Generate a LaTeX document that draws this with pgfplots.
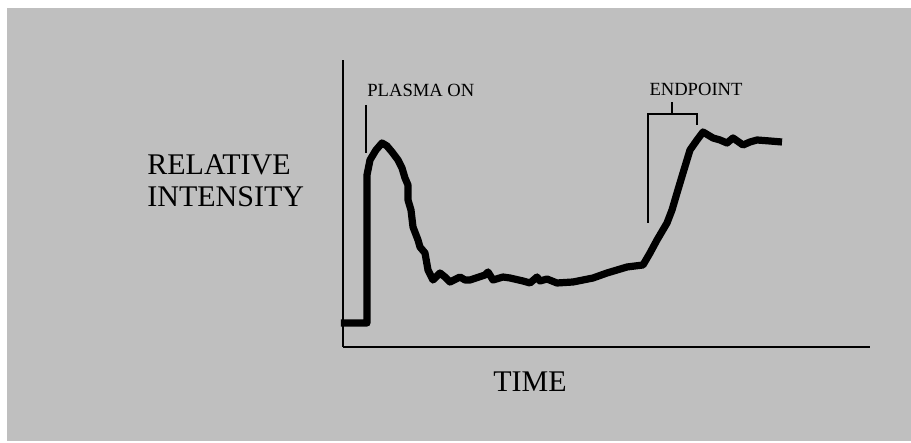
\documentclass[border=0pt]{standalone}
\usepackage{fontspec}
\setmainfont{Liberation Serif}
\usepackage{pgfplots}
\pgfplotsset{compat=1.18}
\definecolor{panel}{HTML}{BFBFBF}
\begin{document}
\begin{tikzpicture}
\fill[white] (-171.5pt,-48pt) rectangle (284pt,173.5pt);
\fill[panel] (-168pt,-47pt) rectangle (284pt,169.5pt);
\begin{axis}[
  scale only axis,
  width=263.5pt, height=143.5pt,
  xmin=0, xmax=527, ymin=0, ymax=287,
  axis x line=bottom, axis y line=left,
  axis line style={-, line width=0.9pt, black},
  xtick=\empty, ytick=\empty,
  clip=false,
]
\addplot[black, line width=3.6pt, line join=round, line cap=butt] coordinates {
(-2,24)(24,24)(24,172)(27,187)(33,197)(39,204)(44,201)(49,195)(55,187)(59,179)
(62,169)(65,162)(65,147)(68,137)(70,120)(75,107)(77,100)(82,94)(85,77)(90,67)
(97,74)(102,70)(107,65)(117,70)(122,67)(127,67)(142,72)(145,75)(150,67)(160,70)
(167,69)(180,66)(187,64)(194,70)(197,66)(204,68)(214,64)(230,65)(250,69)(264,74)
(284,80)(300,82)(307,94)(314,107)(324,124)(329,137)(334,154)(340,174)(347,197)
(354,207)(360,215)(370,209)(377,207)(384,204)(390,209)(400,202)(407,205)(414,207)
(427,206)(439,205)
};
% PLASMA ON marker
\draw[black, line width=0.6pt] (axis cs:23,242) -- (axis cs:23,194);
\node[anchor=base west, inner sep=0pt, font=\fontsize{9.3pt}{11pt}\selectfont] at (axis cs:24,250) {PLASMA ON};
% ENDPOINT bracket
\draw[black, line width=0.6pt] (axis cs:305,124) -- (axis cs:305,233) -- (axis cs:354,233) -- (axis cs:354,222);
\draw[black, line width=0.6pt] (axis cs:329,233) -- (axis cs:329,245);
\node[anchor=base, inner sep=0pt, font=\fontsize{9.3pt}{11pt}\selectfont] at (axis cs:353,251) {ENDPOINT};
% Axis labels
\node[anchor=base west, inner sep=0pt, font=\fontsize{15pt}{16pt}\selectfont] at (axis cs:-196,172) {RELATIVE};
\node[anchor=base west, inner sep=0pt, font=\fontsize{15pt}{16pt}\selectfont] at (axis cs:-196,140) {INTENSITY};
\node[anchor=base, inner sep=0pt, font=\fontsize{15pt}{16pt}\selectfont] at (axis cs:187,-45) {TIME};
\end{axis}
\end{tikzpicture}
\end{document}
